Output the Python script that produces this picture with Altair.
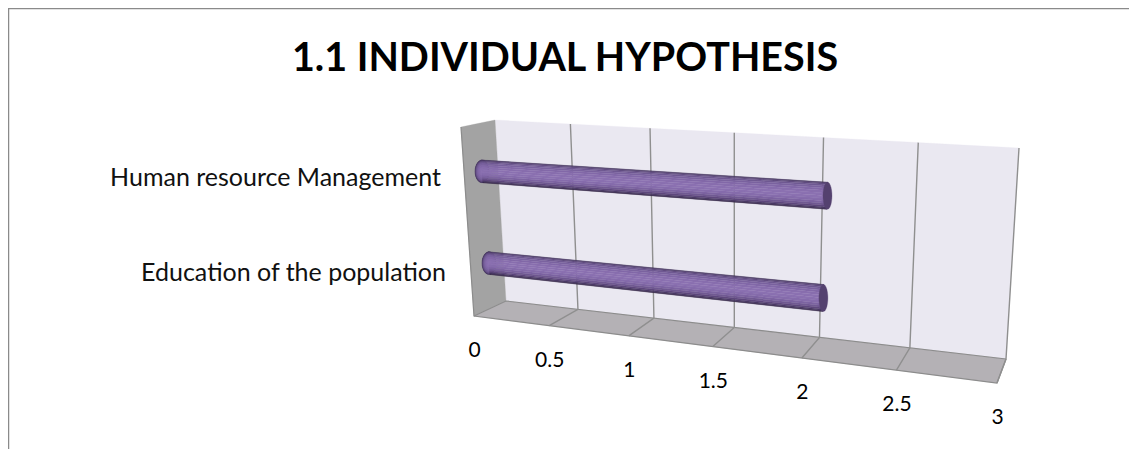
import numpy as np
import pandas as pd
import altair as alt

TITLE = "1.1 INDIVIDUAL HYPOTHESIS"
categories = ["Human resource Management", "Education of the population"]
values = [2, 2]
ticks = [0, 0.5, 1, 1.5, 2, 2.5, 3]
tick_labels = ["0", "0.5", "1", "1.5", "2", "2.5", "3"]
VMAX = 3

XMAX, H = 1129, 449
PERSP = 1.19  # foreshortening along the value axis

def frac(u):
    return u / (u + PERSP * (1 - u))

def lerp(a, b, s):
    return (a[0] + (b[0] - a[0]) * s, a[1] + (b[1] - a[1]) * s)

def plane(a, b, c, d):
    """(u, t) -> screen: a-b is the edge at t=0, d-c the edge at t=1."""
    def f(u, t):
        s = frac(u)
        return lerp(lerp(a, b, s), lerp(d, c, s), t)
    return f

# Perspective planes of the 3-D box
back = plane((495, 120), (1019, 148), (1006, 359), (506, 301))
floor = plane((474, 316), (997, 383), (1006, 359), (506, 301))
bars = plane((478.5, 125.5), (1038.4, 156), (1017, 373), (492.5, 309))

def area_rows(pid, pts, fill):
    """Turn a convex polygon into x / y / y2 rows for an area mark."""
    pts = np.array(pts, float)
    xs = sorted(set(np.round(pts[:, 0], 3)))
    n = len(pts)
    out = []
    for x in xs:
        ys = []
        for i in range(n):
            x0, y0 = pts[i]
            x1, y1 = pts[(i + 1) % n]
            lo, hi = min(x0, x1), max(x0, x1)
            if lo - 1e-3 <= x <= hi + 1e-3:
                if abs(x1 - x0) < 1e-6:
                    ys += [y0, y1]
                else:
                    ys.append(y0 + (x - x0) / (x1 - x0) * (y1 - y0))
        out.append(dict(pid=pid, x=x, y=min(ys), y2=max(ys), fill=fill))
    return out

X = alt.X("x:Q", scale=alt.Scale(domain=[8, XMAX], nice=False, zero=False), axis=None)
Y = alt.Y("y:Q", scale=alt.Scale(domain=[H, 8], nice=False, zero=False), axis=None)

def polys_layer(rows, stroke_width=0.3):
    return alt.Chart(pd.DataFrame(rows)).mark_area(strokeWidth=stroke_width, interpolate="linear").encode(
        x=X, y=Y, y2="y2:Q",
        detail="pid:N",
        color=alt.Color("fill:N", scale=None),
        stroke=alt.Stroke("fill:N", scale=None),
    )

def lines_layer(rows, color, width):
    return alt.Chart(pd.DataFrame(rows)).mark_line(color=color, strokeWidth=width).encode(
        x=X, y=Y, detail="pid:N", order=alt.Order("o:Q"))

# Walls and floor
wall_rows = []
wall_rows += area_rows("back", [back(0, 0), back(1, 0), back(1, 1), back(0, 1)], "#eae8f1")
wall_rows += area_rows("left", [(461, 127), (495, 120), (506, 301), (474, 316)], "#a3a3a3")
wall_rows += area_rows("floor", [floor(0, 0), floor(1, 0), floor(1, 1), floor(0, 1)], "#b4b1b5")
layers = [polys_layer(wall_rows)]

# Grid lines
grid = []
for i, v in enumerate(ticks):
    u = v / VMAX
    if i > 0:
        for j, p in enumerate([back(u, 0), back(u, 1), floor(u, 0)]):
            grid.append(dict(pid=f"g{i}", x=p[0], y=p[1], o=j))
edge = []
for j, p in enumerate([(461, 127), (474, 316), floor(1, 0), (1006, 359)]):
    edge.append(dict(pid="edge", x=p[0], y=p[1], o=j))
for j, p in enumerate([(474, 316), (506, 301), (1006, 359)]):
    edge.append(dict(pid="inner", x=p[0], y=p[1], o=j))
layers.append(lines_layer(edge, "#8c8c8c", 1.2))
layers.append(lines_layer(grid, "#8f8f8f", 1.4))

# Cylinders: shaded strips across the bar, from the data values
shade = ["#3a2b52", "#4b3a66", "#5f4b7e", "#6f5992", "#7a629f", "#8268a8", "#886eae", "#8b71b1",
         "#8b71b1", "#866cac", "#7d64a2", "#715a93", "#60497f", "#4d3c68", "#3f2f58", "#352848"]
ROWS = [0.25, 0.75]
R0, R1 = 0.062, 0.066  # half thickness of the tube in plane units
bar_rows, lcap_rows, rcap_rows = [], [], []
th = np.linspace(0, 2 * np.pi, 29)[:-1]
n = len(shade)
for b, (cat, val) in enumerate(zip(categories, values)):
    t = ROWS[b]
    u1 = val / VMAX
    for k in range(n):
        a0 = -np.pi / 2 + np.pi * k / n
        a1 = -np.pi / 2 + np.pi * (k + 1) / n
        s0, s1 = np.sin(a0), np.sin(a1)
        quad = [bars(0, t + R0 * s0), bars(u1, t + R1 * s0),
                bars(u1, t + R1 * s1), bars(0, t + R0 * s1)]
        bar_rows += area_rows(f"b{b}s{k:02d}", quad, shade[k])
    x0, y0 = bars(0, t); x1, y1 = bars(u1, t)
    ry0 = (bars(0, t + R0)[1] - bars(0, t - R0)[1]) / 2
    ry1 = (bars(u1, t + R1)[1] - bars(u1, t - R1)[1]) / 2
    # rounded near end: nested ellipses that repeat the tube's shading
    for k in range(n // 2):
        f = abs(np.sin(-np.pi / 2 + np.pi * k / n))
        lcap_rows += area_rows(f"l{b}k{k:02d}",
                               [(x0 + 7 * f * np.cos(a), y0 + ry0 * f * np.sin(a)) for a in th], shade[k])
    # far end: flat dark disc
    rcap_rows += area_rows(f"r{b}", [(x1 + 4.5 * np.cos(a), y1 + ry1 * np.sin(a)) for a in th], "#54416f")
layers.append(polys_layer(lcap_rows))
layers.append(polys_layer(bar_rows))
layers.append(polys_layer(rcap_rows))

# Value labels below the floor edge
tick_df = pd.DataFrame([
    dict(x=floor(v / VMAX, 0)[0] + 0.5, y=floor(v / VMAX, 0)[1] + 35, text=lab)
    for v, lab in zip(ticks, tick_labels)])
layers.append(alt.Chart(tick_df).mark_text(font="Lato", fontSize=21, color="#000000").encode(x=X, y=Y, text="text:N"))

# Category labels
cat_df = pd.DataFrame(dict(x=[441, 446], y=[186, 281], text=categories))
layers.append(alt.Chart(cat_df).mark_text(font="Lato", fontSize=25, align="right", baseline="alphabetic", color="#111111").encode(x=X, y=Y, text="text:N"))

# Title
title_df = pd.DataFrame(dict(x=[565], y=[71], text=[TITLE]))
layers.append(alt.Chart(title_df).mark_text(font="Lato", fontSize=39.5, fontWeight="bold", baseline="alphabetic", color="#000000").encode(x=X, y=Y, text="text:N"))

# Outer frame
frame = [dict(pid="f", x=8.5, y=H, o=0), dict(pid="f", x=8.5, y=8.5, o=1), dict(pid="f", x=XMAX, y=8.5, o=2)]
layers.append(lines_layer(frame, "#8a8a8a", 1.5))

chart = alt.layer(*layers).properties(
    width=XMAX - 8, height=H - 8, padding=0,
    autosize=alt.AutoSizeParams(type="none"),
    background="#ffffff",
).configure_view(stroke=None)

chart.save("out.html", embed_options={"renderer": "svg", "actions": False})
